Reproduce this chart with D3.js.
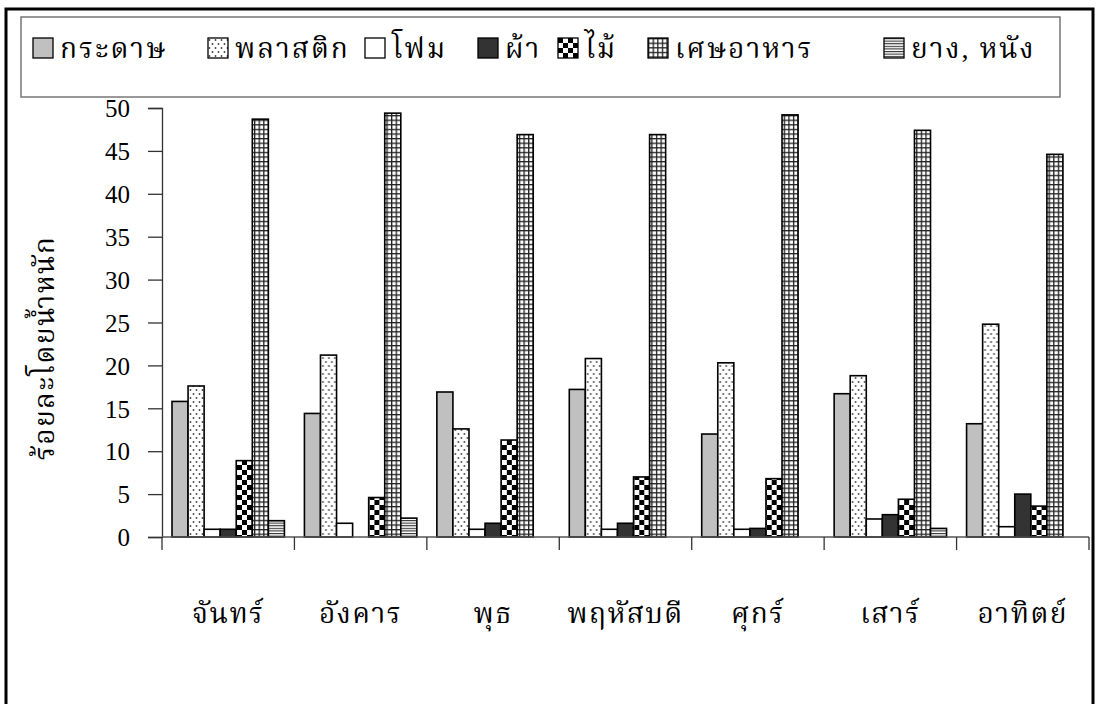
<!DOCTYPE html>
<html>
<head>
<meta charset="utf-8">
<script src="https://cdn.jsdelivr.net/npm/d3@7"></script>
<style>
  body { margin: 0; background: #fff; }
  svg { display: block; }
</style>
</head>
<body>
<div id="chart"></div>
<script>
const days = ["จันทร์", "อังคาร", "พุธ", "พฤหัสบดี", "ศุกร์", "เสาร์", "อาทิตย์"];
const seriesNames = ["กระดาษ", "พลาสติก", "โฟม", "ผ้า", "ไม้", "เศษอาหาร", "ยาง, หนัง"];

const paper   = [15.8, 14.4, 16.9, 17.2, 12.0, 16.7, 13.2];
const plastic = [17.6, 21.2, 12.6, 20.8, 20.3, 18.8, 24.8];
const foam    = [0.9, 1.6, 0.9, 0.9, 0.9, 2.1, 1.2];
const cloth   = [0.9, 0, 1.6, 1.6, 1.0, 2.6, 5.0];
const wood    = [8.9, 4.6, 11.3, 7.0, 6.8, 4.4, 3.6];
const food    = [48.7, 49.4, 46.9, 46.9, 49.2, 47.4, 44.6];
const rubber  = [1.9, 2.2, 0, 0, 0, 1.0, 0];

const yTicks = [0, 5, 10, 15, 20, 25, 30, 35, 40, 45, 50];
const yTitle = "ร้อยละโดยน้ำหนัก";

const allSeries = [paper, plastic, foam, cloth, wood, food, rubber];
const fills = ["#c0c0c0", "url(#dots)", "#fff", "#333", "url(#checker)", "url(#grid)", "url(#stripes)"];

const W = 1097, H = 704;
const font = "'Liberation Serif', 'Kinnari', 'Norasi', 'Laksaman', 'Noto Serif Thai', serif";

const svg = d3.select("#chart").append("svg")
    .attr("width", W)
    .attr("height", H)
    .style("font-family", font);

// fill patterns
const defs = svg.append("defs");

const dots = defs.append("pattern").attr("id", "dots")
    .attr("patternUnits", "userSpaceOnUse").attr("width", 6).attr("height", 8);
dots.append("rect").attr("width", 6).attr("height", 8).attr("fill", "#fff");
dots.append("circle").attr("cx", 1.5).attr("cy", 2).attr("r", 0.9).attr("fill", "#444");
dots.append("circle").attr("cx", 4.5).attr("cy", 6).attr("r", 0.9).attr("fill", "#444");

const checker = defs.append("pattern").attr("id", "checker")
    .attr("patternUnits", "userSpaceOnUse").attr("width", 10).attr("height", 10);
checker.append("rect").attr("width", 10).attr("height", 10).attr("fill", "#fff");
checker.append("rect").attr("width", 5).attr("height", 5).attr("fill", "#000");
checker.append("rect").attr("x", 5).attr("y", 5).attr("width", 5).attr("height", 5).attr("fill", "#000");

const grid = defs.append("pattern").attr("id", "grid")
    .attr("patternUnits", "userSpaceOnUse").attr("width", 4.6).attr("height", 4.6);
grid.append("rect").attr("width", 4.6).attr("height", 4.6).attr("fill", "#222");
grid.append("rect").attr("x", 1.3).attr("y", 1.3).attr("width", 3.3).attr("height", 3.3).attr("fill", "#fff");

const stripes = defs.append("pattern").attr("id", "stripes")
    .attr("patternUnits", "userSpaceOnUse").attr("width", 4).attr("height", 2.6);
stripes.append("rect").attr("width", 4).attr("height", 2.6).attr("fill", "#fff");
stripes.append("rect").attr("width", 4).attr("height", 1.1).attr("fill", "#333");

// outer frame
svg.append("rect")
    .attr("x", 6).attr("y", 9)
    .attr("width", 1087).attr("height", 720)
    .attr("fill", "none")
    .attr("stroke", "#000")
    .attr("stroke-width", 3);

// legend box
svg.append("rect")
    .attr("x", 21).attr("y", 17)
    .attr("width", 1039).attr("height", 80)
    .attr("fill", "#fff")
    .attr("stroke", "#777")
    .attr("stroke-width", 1.5);

const legendX = [33, 208, 365, 478, 558, 648, 884];
const legend = svg.selectAll(".legend")
    .data(seriesNames)
    .enter()
    .append("g")
    .attr("class", "legend")
    .attr("transform", (d, i) => `translate(${legendX[i]},38)`);

legend.append("rect")
    .attr("width", 20)
    .attr("height", 20)
    .attr("fill", (d, i) => fills[i])
    .attr("stroke", "#000")
    .attr("stroke-width", 1.3);

legend.append("text")
    .attr("x", 27)
    .attr("y", 20)
    .attr("font-size", "28px")
    .attr("letter-spacing", "2px")
    .attr("fill", "#000")
    .text(d => d);

// scales
const x0 = d3.scaleBand()
    .domain(days)
    .range([162, 1089])
    .padding(0);

const x1 = d3.scaleBand()
    .domain(seriesNames)
    .range([10, x0.bandwidth() - 10]);

const y = d3.scaleLinear()
    .domain([0, 50])
    .range([537, 108]);

// y axis
const yAxis = svg.append("g")
    .attr("transform", "translate(162,0)")
    .call(d3.axisLeft(y).tickValues(yTicks).tickSize(14).tickPadding(18));
yAxis.select(".domain").attr("stroke", "#333").attr("stroke-width", 1.3);
yAxis.selectAll(".tick line").attr("stroke", "#333").attr("stroke-width", 1.3);
yAxis.selectAll(".tick text")
    .attr("font-size", "25px")
    .attr("font-family", font)
    .attr("fill", "#000")
    .attr("dy", "0.35em");

// bars
const groups = svg.selectAll(".day")
    .data(days)
    .enter()
    .append("g")
    .attr("class", "day")
    .attr("transform", d => `translate(${x0(d)},0)`);

groups.selectAll("rect")
    .data((d, di) => seriesNames.map((s, si) => ({ s, si, v: allSeries[si][di] })).filter(e => e.v > 0))
    .enter()
    .append("rect")
    .attr("x", e => x1(e.s))
    .attr("y", e => y(e.v))
    .attr("width", x1.bandwidth())
    .attr("height", e => y(0) - y(e.v))
    .attr("fill", e => fills[e.si])
    .attr("stroke", "#000")
    .attr("stroke-width", 1.6);

// category axis
const xAxis = svg.append("g")
    .attr("transform", "translate(0,537)");
xAxis.append("line")
    .attr("x1", 162).attr("x2", 1089)
    .attr("stroke", "#555").attr("stroke-width", 1.3);
xAxis.selectAll(".xtick")
    .data(days.concat(["end"]))
    .enter()
    .append("line")
    .attr("class", "xtick")
    .attr("x1", (d, i) => i < days.length ? x0(d) : x0.range()[1])
    .attr("x2", (d, i) => i < days.length ? x0(d) : x0.range()[1])
    .attr("y1", 0).attr("y2", 13)
    .attr("stroke", "#333").attr("stroke-width", 1.3);
xAxis.selectAll(".xlabel")
    .data(days)
    .enter()
    .append("text")
    .attr("class", "xlabel")
    .attr("x", d => x0(d) + x0.bandwidth() / 2)
    .attr("y", 86)
    .attr("text-anchor", "middle")
    .attr("font-size", "28px")
    .attr("letter-spacing", "1.5px")
    .attr("fill", "#000")
    .text(d => d);

// y title
svg.append("text")
    .attr("transform", "translate(54,348) rotate(-90)")
    .attr("text-anchor", "middle")
    .attr("font-size", "28px")
    .attr("letter-spacing", "1.5px")
    .attr("fill", "#000")
    .text(yTitle);
</script>
</body>
</html>
